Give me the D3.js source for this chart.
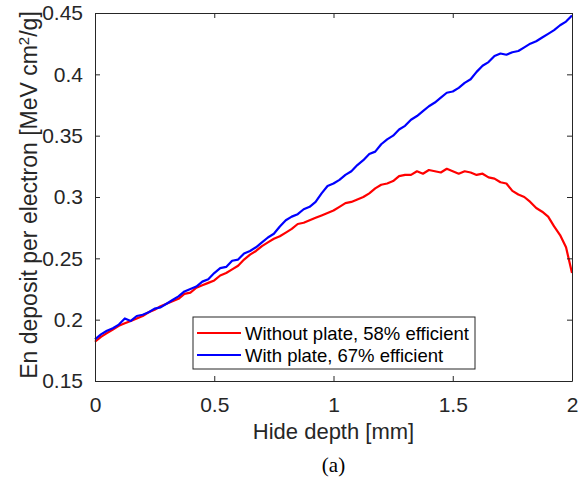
<!DOCTYPE html>
<html>
<head>
<meta charset="utf-8">
<script src="https://cdn.jsdelivr.net/npm/d3@7"></script>
<style>
  body { margin: 0; background: #fff; }
  svg { display: block; font-family: "Liberation Sans", Arial, sans-serif; }
</style>
</head>
<body>
<script>
// hide depth in mm, step 0.025
const depth = d3.range(81).map(i => i * 0.025);

const withoutPlate = [
  0.182, 0.186, 0.189, 0.192, 0.195, 0.197, 0.199, 0.201, 0.203, 0.206,
  0.208, 0.211, 0.213, 0.215, 0.217, 0.221, 0.222, 0.226, 0.228, 0.230,
  0.232, 0.236, 0.238, 0.241, 0.244, 0.249, 0.253, 0.256, 0.260, 0.263,
  0.266, 0.268, 0.271, 0.274, 0.278, 0.279, 0.281, 0.283, 0.285, 0.287,
  0.289, 0.292, 0.295, 0.296, 0.298, 0.300, 0.303, 0.307, 0.310, 0.311,
  0.313, 0.317, 0.318, 0.318, 0.321, 0.319, 0.322, 0.321, 0.320, 0.323,
  0.321, 0.319, 0.321, 0.320, 0.318, 0.319, 0.316, 0.315, 0.312, 0.311,
  0.305, 0.302, 0.300, 0.296, 0.291, 0.288, 0.284, 0.276, 0.269, 0.259,
  0.238
];

const withPlate = [
  0.184, 0.188, 0.191, 0.193, 0.196, 0.201, 0.199, 0.203, 0.204, 0.206,
  0.209, 0.210, 0.213, 0.216, 0.219, 0.223, 0.225, 0.227, 0.231, 0.233,
  0.238, 0.242, 0.243, 0.248, 0.249, 0.254, 0.256, 0.259, 0.263, 0.267,
  0.270, 0.276, 0.281, 0.284, 0.286, 0.290, 0.292, 0.296, 0.303, 0.309,
  0.311, 0.314, 0.318, 0.321, 0.326, 0.330, 0.335, 0.337, 0.343, 0.347,
  0.350, 0.355, 0.358, 0.363, 0.366, 0.370, 0.374, 0.377, 0.381, 0.385,
  0.386, 0.389, 0.393, 0.396, 0.402, 0.407, 0.410, 0.415, 0.417, 0.416,
  0.418, 0.419, 0.422, 0.425, 0.427, 0.430, 0.433, 0.436, 0.440, 0.443,
  0.448
];

const xTicks = [0, 0.5, 1, 1.5, 2];
const yTicks = [0.15, 0.2, 0.25, 0.3, 0.35, 0.4, 0.45];
const seriesNames = ['Without plate, 58% efficient', 'With plate, 67% efficient'];
const seriesColors = ['#ff0000', '#0000ff'];

const svg = d3.select(document.body).append('svg')
  .attr('width', 583).attr('height', 485);

const m = {top: 13, right: 11, bottom: 104, left: 95};
const W = 583 - m.left - m.right;
const H = 485 - m.top - m.bottom;
const ink = '#262626';

const x = d3.scaleLinear().domain([0, 2]).range([0, W]);
const y = d3.scaleLinear().domain([0.15, 0.45]).range([H, 0]);

const g = svg.append('g').attr('transform', `translate(${m.left},${m.top})`);

// lines
const line = d3.line().x((d, i) => x(depth[i])).y(d => y(d));
[withoutPlate, withPlate].forEach((s, k) => {
  g.append('path').datum(s)
    .attr('fill', 'none')
    .attr('stroke', seriesColors[k])
    .attr('stroke-width', 2.2)
    .attr('stroke-linejoin', 'round')
    .attr('d', line);
});

// axes, MATLAB style (inward ticks, box)
function styleAxis(sel, showText) {
  sel.select('.domain').attr('stroke', ink).attr('stroke-width', 1);
  sel.selectAll('.tick line').attr('stroke', ink);
  sel.selectAll('.tick text').attr('fill', ink)
    .style('font-size', '21px')
    .style('font-family', '"Liberation Sans", Arial, sans-serif')
    .style('display', showText ? null : 'none');
}
g.append('g').attr('transform', `translate(0,${H})`)
  .call(d3.axisBottom(x).tickValues(xTicks).tickSizeInner(-5).tickSizeOuter(0).tickPadding(16).tickFormat(d3.format('')))
  .call(s => styleAxis(s, true));
g.append('g')
  .call(d3.axisTop(x).tickValues(xTicks).tickSizeInner(-5).tickSizeOuter(0))
  .call(s => styleAxis(s, false));
g.append('g')
  .call(d3.axisLeft(y).tickValues(yTicks).tickSizeInner(-5).tickSizeOuter(0).tickPadding(12).tickFormat(d3.format('')))
  .call(s => styleAxis(s, true));
g.append('g').attr('transform', `translate(${W},0)`)
  .call(d3.axisRight(y).tickValues(yTicks).tickSizeInner(-5).tickSizeOuter(0))
  .call(s => styleAxis(s, false));

// axis labels
svg.append('text')
  .attr('x', m.left + W / 2).attr('y', 439)
  .attr('text-anchor', 'middle').attr('fill', ink)
  .style('font-size', '22px')
  .text('Hide depth [mm]');

const yl = svg.append('text')
  .attr('transform', 'translate(37,195) rotate(-90)')
  .attr('text-anchor', 'middle').attr('fill', ink)
  .style('font-size', '23px');
yl.append('tspan').text('En deposit per electron [MeV cm');
yl.append('tspan').attr('dy', -8).style('font-size', '15px').text('2');
yl.append('tspan').attr('dy', 8).text('/g]');

svg.append('text')
  .attr('x', m.left + W / 2).attr('y', 472)
  .attr('text-anchor', 'middle').attr('fill', '#000')
  .style('font-family', '"Liberation Serif", "Times New Roman", serif')
  .style('font-size', '21px')
  .text('(a)');

// legend
const lg = svg.append('g').attr('transform', 'translate(193,317)');
lg.append('rect').attr('width', 282).attr('height', 52)
  .attr('fill', '#fff').attr('stroke', ink).attr('stroke-width', 1);
seriesNames.forEach((name, k) => {
  const yy = 16 + k * 22;
  lg.append('line').attr('x1', 4).attr('x2', 48).attr('y1', yy).attr('y2', yy)
    .attr('stroke', seriesColors[k]).attr('stroke-width', 2);
  lg.append('text').attr('x', 52).attr('y', yy + 6.5)
    .attr('fill', '#000').style('font-size', '18.5px').text(name);
});
</script>
</body>
</html>
